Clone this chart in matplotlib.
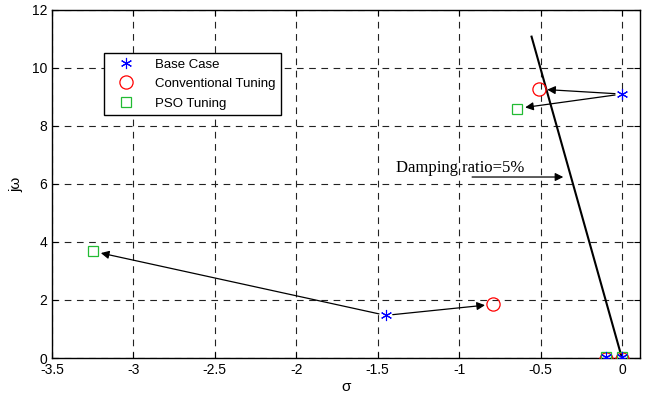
import matplotlib
matplotlib.use("Agg")
import matplotlib.pyplot as plt

base_x = [-1.45, 0.0, -0.1, 0.0]
base_y = [1.47, 9.1, 0.02, 0.02]
conv_x = [-0.79, -0.51, -0.1, 0.0]
conv_y = [1.85, 9.27, -0.02, -0.02]
pso_x = [-3.25, -0.645, -0.1, 0.0]
pso_y = [3.68, 8.6, 0.02, 0.02]
damp_x = [0.0, -0.555]
damp_y = [0.0, 11.08]

plt.rcParams['font.family'] = ['Liberation Sans', 'DejaVu Sans']
fig = plt.figure(figsize=(6.45, 3.98), dpi=100)
ax = fig.add_axes([0.0806, 0.1005, 0.9114, 0.8745])

ax.plot(damp_x, damp_y, color='black', lw=1.5, zorder=2)
l1, = ax.plot(base_x, base_y, ls='none', marker='*', color='blue', ms=8, markeredgewidth=0.8,
              label='Base Case', zorder=4)
l1.set_marker((6, 2, 0))
l2, = ax.plot(conv_x, conv_y, ls='none', marker='o', mfc='none', mec='red', ms=9.5, mew=0.9,
              label='Conventional Tuning', zorder=3)
l3, = ax.plot(pso_x, pso_y, ls='none', marker='s', mfc='none', mec='#22bb33', ms=7.5, mew=0.9,
              label='PSO Tuning', zorder=3)

arrow = dict(arrowstyle='-|>', color='black', lw=0.9, mutation_scale=12, shrinkA=5, shrinkB=6)
ax.annotate('', xy=(conv_x[1], conv_y[1]), xytext=(base_x[1], base_y[1]), arrowprops=arrow)
ax.annotate('', xy=(pso_x[1], pso_y[1]), xytext=(base_x[1], base_y[1]), arrowprops=arrow)
ax.annotate('', xy=(pso_x[0], pso_y[0]), xytext=(base_x[0], base_y[0]), arrowprops=arrow)
ax.annotate('', xy=(conv_x[0], conv_y[0]), xytext=(base_x[0], base_y[0]), arrowprops=arrow)
ax.annotate('', xy=(-0.36, 6.24), xytext=(-0.92, 6.24),
            arrowprops=dict(arrowstyle='-|>', color='black', lw=0.9, mutation_scale=12, shrinkA=0, shrinkB=0))
ax.text(-1.39, 6.55, 'Damping ratio=5%', family='Liberation Serif', fontsize=12, va='center', ha='left')

ax.set_xlim(-3.5, 0.11)
ax.set_ylim(0, 12)
ax.set_xticks([-3.5, -3, -2.5, -2, -1.5, -1, -0.5, 0])
ax.set_xticklabels(['-3.5', '-3', '-2.5', '-2', '-1.5', '-1', '-0.5', '0'])
ax.set_yticks([0, 2, 4, 6, 8, 10, 12])
ax.grid(True, color='#222222', ls=(0, (6, 5)), lw=0.8)
ax.tick_params(direction='in', top=True, right=True, labelsize=10, length=4)
for s in ax.spines.values():
    s.set_linewidth(1.0)
ax.set_xlabel('σ', fontsize=11, labelpad=2)
ax.set_ylabel('jω', fontsize=11, labelpad=6)

leg = ax.legend(handles=[l1, l2, l3], loc='upper left', bbox_to_anchor=(0.077, 0.895),
                fancybox=False, edgecolor='black', framealpha=1, fontsize=9.5,
                borderpad=0.4, labelspacing=0.55, handletextpad=1.0, handlelength=2.5)
leg.get_frame().set_linewidth(1.0)

fig.savefig('out.png', dpi=100)
